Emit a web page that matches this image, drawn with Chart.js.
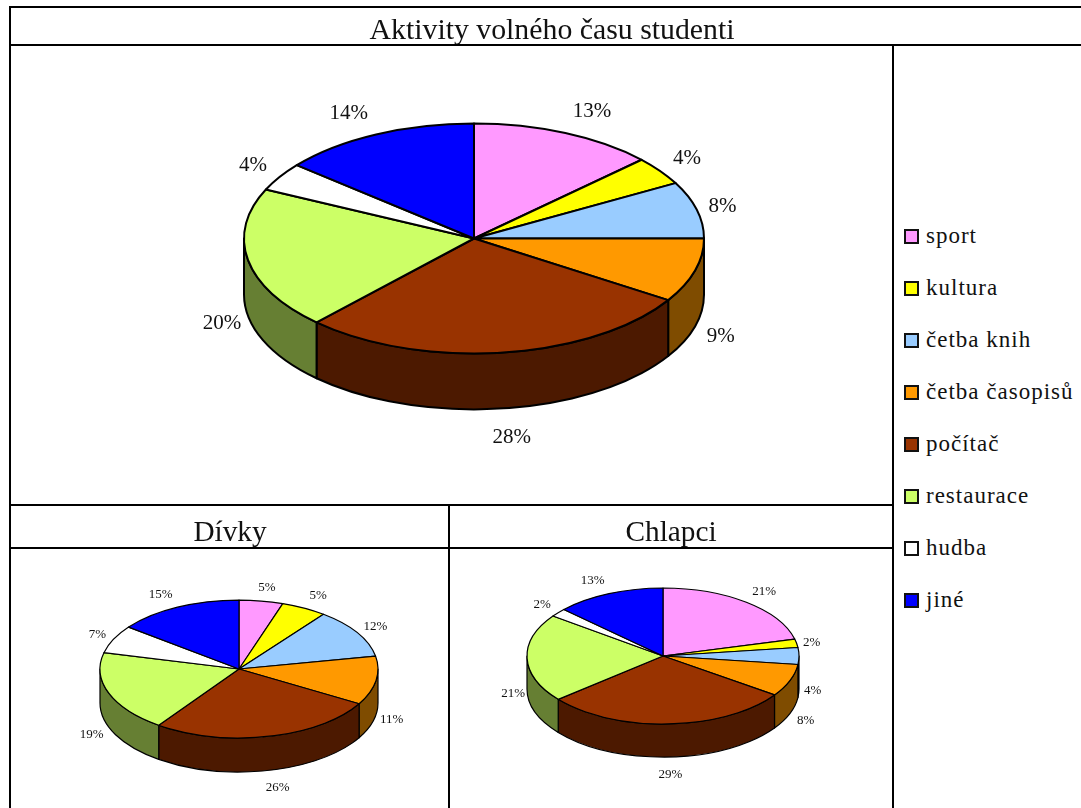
<!DOCTYPE html>
<html lang="cs">
<head>
<meta charset="utf-8">
<title>Aktivity volného času studenti</title>
<script src="https://cdn.jsdelivr.net/npm/chart.js@4"></script>
<style>
    html, body { margin: 0; background: #fff; overflow: hidden; }
    body { width: 1081px; height: 808px; position: relative; font-family: 'Liberation Serif', serif; color: #111; }
    .rule { position: absolute; background: #000; }
    canvas { position: absolute; }
    .head { position: absolute; font-size: 29.3px; line-height: 34px; white-space: nowrap; transform: translateX(-50%); }
    .swatch { position: absolute; left: 904px; width: 11px; height: 11px; border: 2px solid #111; }
    .entry { position: absolute; left: 926px; font-size: 23px; line-height: 26px; letter-spacing: 1px; white-space: nowrap; }
</style>
</head>
<body>
<canvas id="mainPie" width="836" height="477" style="left:56px;top:0"></canvas>
<canvas id="girlsPie" width="418" height="278" style="left:30px;top:530px"></canvas>
<canvas id="boysPie" width="400" height="272" style="left:463px;top:520px"></canvas>

<div class="head" style="left:552px;top:12px;font-size:29.8px">Aktivity volného času studenti</div>
<div class="head" style="left:230px;top:514px">Dívky</div>
<div class="head" style="left:671px;top:514px">Chlapci</div>

<script>
const categories = ['sport', 'kultura', 'četba knih', 'četba časopisů', 'počítač', 'restaurace', 'hudba', 'jiné'];
const allStudents = [13, 4, 8, 9, 28, 20, 4, 14];
const girls = [5.1, 5.3, 11.6, 11.4, 26.4, 19, 6.6, 14.6];
const boys = [21, 2, 4, 7.7, 29.3, 21, 2, 13];
const colors = ['#FF99FF', '#FFFF00', '#99CCFF', '#FF9900', '#993300', '#CCFF66', '#FFFFFF', '#0000FF'];

// table grid: x, y, width, height
const rules = [
    [9, 6, 1072, 2], [9, 44, 1072, 2], [9, 504, 883, 2], [9, 547, 883, 2],
    [9, 6, 2, 802], [892, 44, 2, 764], [448, 504, 2, 304]
];
rules.forEach(r => {
    const d = document.createElement('div');
    d.className = 'rule';
    d.style.cssText = `left:${r[0]}px;top:${r[1]}px;width:${r[2]}px;height:${r[3]}px`;
    document.body.appendChild(d);
});

// legend
categories.forEach((name, i) => {
    const y = 236 + i * 52;
    const box = document.createElement('div');
    box.className = 'swatch';
    box.style.top = (y - 7) + 'px';
    box.style.background = colors[i];
    document.body.appendChild(box);
    const label = document.createElement('div');
    label.className = 'entry';
    label.style.top = (y - 13) + 'px';
    label.textContent = name;
    document.body.appendChild(label);
});

// wall of a slice is the same colour at half brightness
function darken(hex) {
    const n = parseInt(hex.slice(1), 16);
    const half = v => Math.floor(v / 2);
    return `rgb(${half(n >> 16)},${half((n >> 8) & 255)},${half(n & 255)})`;
}

// Chart.js lays out the slices, this flattens them and adds the wall and the labels
const pie3d = {
    id: 'pie3d',
    beforeDatasetsDraw(chart, args, opts) {
        const ctx = chart.ctx;
        const arcs = chart.getDatasetMeta(0).data;
        const values = chart.data.datasets[0].data;
        const bg = chart.data.datasets[0].backgroundColor;
        ctx.save();
        ctx.lineWidth = opts.line;
        ctx.strokeStyle = '#000';
        ctx.lineJoin = 'round';

        arcs.forEach((arc, i) => {
            const start = Math.max(arc.startAngle, 0);
            const end = Math.min(arc.endAngle, Math.PI);
            if (end <= start) return;
            const rx = arc.outerRadius, ry = rx * opts.tilt, depth = rx * opts.depth;
            ctx.beginPath();
            ctx.ellipse(arc.x, arc.y, rx, ry, 0, start, end);
            ctx.ellipse(arc.x, arc.y + depth, rx, ry, 0, end, start, true);
            ctx.closePath();
            ctx.fillStyle = darken(bg[i]);
            ctx.fill();
            ctx.stroke();
        });

        arcs.forEach((arc, i) => {
            const rx = arc.outerRadius, ry = rx * opts.tilt;
            ctx.beginPath();
            ctx.moveTo(arc.x, arc.y);
            ctx.ellipse(arc.x, arc.y, rx, ry, 0, arc.startAngle, arc.endAngle);
            ctx.closePath();
            ctx.fillStyle = bg[i];
            ctx.fill();
            ctx.stroke();
        });

        ctx.fillStyle = '#111';
        ctx.font = opts.font + "px 'Liberation Serif'";
        ctx.textAlign = 'center';
        ctx.textBaseline = 'middle';
        arcs.forEach((arc, i) => {
            const text = Math.round(values[i]) + '%';
            const mid = (arc.startAngle + arc.endAngle) / 2;
            const rx = arc.outerRadius, ry = rx * opts.tilt, depth = rx * opts.depth;
            const halfW = ctx.measureText(text).width / 2;
            const c = Math.cos(mid), s = Math.sin(mid);
            const x = arc.x + rx * 1.1 * c + halfW * Math.sign(c) * Math.abs(s) * Math.min(1, 2.5 * Math.abs(c));
            const y = arc.y + ry * 1.23 * s + (s >= -1e-6 ? depth : 0) + opts.font * 0.14;
            ctx.fillText(text, x, y);
        });
        ctx.restore();
        return false;
    }
};

function makePie(id, values, padding, tilt, depth, line, font) {
    return new Chart(document.getElementById(id), {
        type: 'pie',
        data: {
            labels: categories,
            datasets: [{ data: values, backgroundColor: colors, borderWidth: 0 }]
        },
        options: {
            responsive: false,
            animation: false,
            layout: { padding: padding },
            plugins: {
                legend: { display: false },
                tooltip: { enabled: false },
                pie3d: { tilt: tilt, depth: depth, line: line, font: font }
            }
        },
        plugins: [pie3d]
    });
}

makePie('mainPie', allStudents, { top: 8.5, bottom: 8.5 }, 0.5, 0.243, 2, 21);
makePie('girlsPie', girls, 0, 0.496, 0.245, 1.2, 13);
makePie('boysPie', boys, 0, 0.5, 0.243, 1.2, 13);
</script>
</body>
</html>
